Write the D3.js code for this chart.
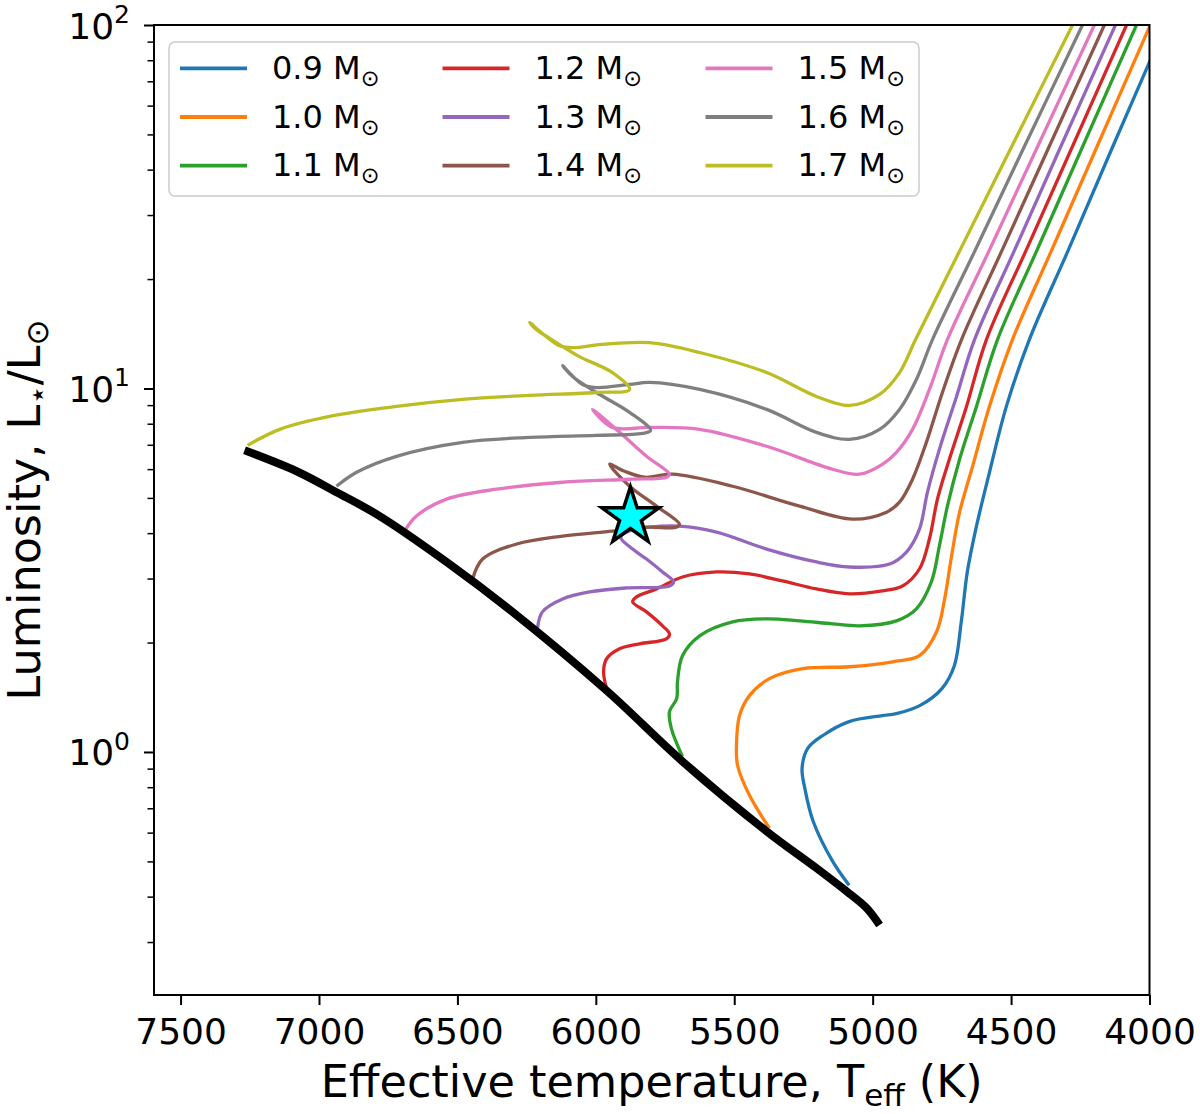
<!DOCTYPE html>
<html>
<head>
<meta charset="utf-8">
<script src="https://cdn.jsdelivr.net/npm/d3@7"></script>
<style>
  body { margin: 0; background: #fff; }
  text { font-family: "DejaVu Sans", sans-serif; fill: #000; }
</style>
</head>
<body>
<svg id="chart" width="1200" height="1114"></svg>
<script>
// stellar masses (solar units) and their colours
var masses = [0.9, 1.0, 1.1, 1.2, 1.3, 1.4, 1.5, 1.6, 1.7];
var colors = ["#1f77b4", "#ff7f0e", "#2ca02c", "#d62728", "#9467bd",
              "#8c564b", "#e377c2", "#7f7f7f", "#bcbd22"];

// evolutionary tracks, [Teff (K), L/Lsun]
var track09 = [[5085,0.430],[5145,0.501],[5215,0.645],[5245,0.794],[5255,0.901],[5235,1.022],[5180,1.110],[5085,1.212],[4965,1.259],[4915,1.275],[4830,1.341],[4750,1.494],[4705,1.727],[4680,2.28],[4658,3.13],[4625,4.18],[4578,5.88],[4517,8.93],[4434,13.63],[4293,24.06],[4138,45.3],[3942,100],[3912,113]];
var track10 = [[5373,0.617],[5445,0.760],[5488,0.918],[5492,1.042],[5481,1.259],[5445,1.429],[5373,1.591],[5253,1.695],[5084,1.716],[4928,1.771],[4831,1.840],[4769,2.141],[4740,2.637],[4715,3.46],[4686,4.57],[4639,6.11],[4578,8.93],[4495,13.63],[4353,24.06],[4195,45.3],[3997,100],[3966,113]];
var track11 = [[5687,0.972],[5727,1.160],[5734,1.291],[5708,1.402],[5705,1.561],[5687,1.840],[5625,2.087],[5506,2.28],[5383,2.324],[5264,2.295],[5145,2.252],[5048,2.224],[4914,2.295],[4842,2.476],[4788,2.936],[4759,3.687],[4730,4.746],[4686,6.385],[4625,8.925],[4549,13.63],[4406,24.06],[4247,45.3],[4047,100],[4016,113]];
var track12 = [[5961,1.494],[5972,1.663],[5961,1.805],[5914,1.922],[5842,1.984],[5745,2.048],[5734,2.114],[5759,2.223],[5817,2.429],[5867,2.588],[5853,2.671],[5781,2.809],[5687,3.030],[5564,3.128],[5445,3.089],[5326,2.955],[5203,2.809],[5084,2.722],[4965,2.774],[4892,2.862],[4831,3.187],[4795,3.853],[4766,4.961],[4723,6.385],[4661,8.925],[4589,13.63],[4445,24.06],[4284,45.3],[4083,100],[4052,113]];
var track13 = [[6211,2.182],[6193,2.429],[6120,2.637],[6023,2.756],[5889,2.827],[5734,2.862],[5719,2.936],[5759,3.128],[5817,3.395],[5867,3.616],[5910,3.90],[5870,4.08],[5806,4.155],[5698,4.181],[5564,4.026],[5383,3.616],[5203,3.332],[5084,3.228],[4939,3.289],[4878,3.549],[4831,4.104],[4802,5.185],[4759,6.80],[4697,9.508],[4632,13.63],[4487,24.06],[4326,45.3],[4123,100],[4092,113]];
var track14 = [[6445,2.992],[6409,3.395],[6286,3.733],[6120,3.926],[5940,4.053],[5817,4.155],[5709,4.155],[5698,4.235],[5781,4.746],[5878,5.383],[5950,6.187],[5896,5.92],[5824,5.70],[5723,5.81],[5506,5.383],[5264,4.746],[5073,4.371],[4950,4.569],[4903,4.867],[4856,5.627],[4806,7.109],[4748,9.75],[4679,13.63],[4532,24.06],[4368,45.3],[4163,100],[4131,113]];
var track15 = [[6691,4.053],[6648,4.457],[6539,4.961],[6359,5.283],[6120,5.522],[5878,5.627],[5745,5.70],[5734,5.81],[5817,6.508],[5914,7.574],[5998,8.596],[6012,8.76],[5940,7.816],[5806,7.816],[5625,7.72],[5383,6.934],[5145,5.996],[5048,5.81],[4965,6.187],[4914,6.674],[4856,7.72],[4795,9.94],[4730,13.63],[4578,24.06],[4410,45.3],[4199,100],[4166,113]];
var track16 = [[6937,5.383],[6864,5.883],[6720,6.508],[6481,7.109],[6239,7.337],[5998,7.43],[5831,7.524],[5802,7.67],[5878,8.596],[5998,9.75],[6084,10.79],[6120,11.56],[6048,10.26],[5998,10.06],[5878,10.26],[5806,10.39],[5625,9.94],[5383,8.76],[5203,7.574],[5084,7.245],[4975,7.72],[4903,8.76],[4842,10.59],[4784,13.63],[4629,24.06],[4458,45.3],[4242,100],[4209,113]];
var track17 = [[7258,6.975],[7142,7.72],[6962,8.38],[6720,8.925],[6481,9.33],[6239,9.57],[5998,9.75],[5878,9.94],[5940,11.06],[6059,12.24],[6142,13.37],[6214,14.52],[6239,15.18],[6131,13.12],[6070,12.96],[5987,13.2],[5806,13.37],[5625,12.56],[5383,11.06],[5203,9.508],[5084,8.98],[4975,9.63],[4903,11.06],[4845,13.63],[4684,24.06],[4504,45.3],[4278,100],[4243,113]];
var tracks = [track09, track10, track11, track12, track13, track14, track15, track16, track17];

// zero-age main sequence
var zams = [[7269,6.76],[7081,5.92],[6937,5.185],[6781,4.457],[6539,3.332],[6301,2.429],[5961,1.475],[5687,0.942],[5383,0.605],[5203,0.479],[5095,0.414],[5022,0.372],[4975,0.334]];

// the observed star
var star = [5875, 4.43];

var xTicks = [7500, 7000, 6500, 6000, 5500, 5000, 4500, 4000];
var yTicks = [1, 10, 100];
var yMinor = [0.3,0.4,0.5,0.6,0.7,0.8,0.9,2,3,4,5,6,7,8,9,20,30,40,50,60,70,80,90];

var plotL = 154, plotR = 1149.5, plotT = 25, plotB = 995;

var svg = d3.select("#chart");
svg.append("rect").attr("width", 1200).attr("height", 1114).attr("fill", "#fff");

var x = d3.scaleLinear().domain([7596, 4000]).range([plotL, plotR]);
var y = d3.scaleLog().domain([0.2145, 100]).range([plotB, plotT]);

svg.append("clipPath").attr("id", "plotclip")
   .append("rect")
   .attr("x", plotL).attr("y", plotT)
   .attr("width", plotR - plotL).attr("height", plotB - plotT);

var plot = svg.append("g").attr("clip-path", "url(#plotclip)");

var line = d3.line()
    .x(function(d) { return x(d[0]); })
    .y(function(d) { return y(d[1]); })
    .curve(d3.curveCatmullRom.alpha(0.5));

tracks.forEach(function(t, i) {
  plot.append("path")
      .attr("d", line(t))
      .attr("fill", "none")
      .attr("stroke", colors[i])
      .attr("stroke-width", 3.3)
      .attr("stroke-linejoin", "round");
});

plot.append("path")
    .attr("d", line(zams))
    .attr("fill", "none")
    .attr("stroke", "#000")
    .attr("stroke-width", 8)
    .attr("stroke-linejoin", "round");

svg.append("path")
   .attr("d", d3.symbol(d3.symbolStar, 1010)())
   .attr("transform", "translate(" + x(star[0]) + "," + y(star[1]) + ")")
   .attr("fill", "#00ffff")
   .attr("stroke", "#000")
   .attr("stroke-width", 3.5)
   .attr("stroke-linejoin", "miter");

// x axis
var xAxis = svg.append("g")
    .attr("transform", "translate(0," + plotB + ")")
    .call(d3.axisBottom(x).tickValues(xTicks).tickSize(10).tickPadding(13).tickFormat(d3.format("d")));
xAxis.select(".domain").remove();
xAxis.selectAll("line").attr("stroke", "#000").attr("stroke-width", 2);
xAxis.selectAll("text").attr("font-size", 36).attr("font-family", "DejaVu Sans").attr("fill", "#000");

// y axis, major + minor
var yAxis = svg.append("g")
    .attr("transform", "translate(" + plotL + ",0)")
    .call(d3.axisLeft(y).tickValues(yTicks).tickSize(10).tickFormat(""));
yAxis.select(".domain").remove();
yAxis.selectAll("line").attr("stroke", "#000").attr("stroke-width", 2);

var yMin = svg.append("g")
    .attr("transform", "translate(" + plotL + ",0)")
    .call(d3.axisLeft(y).tickValues(yMinor).tickSize(6.5).tickFormat(""));
yMin.select(".domain").remove();
yMin.selectAll("line").attr("stroke", "#000").attr("stroke-width", 1.5);

yTicks.forEach(function(v) {
  var t = svg.append("text")
      .attr("x", plotL - 24)
      .attr("y", y(v) + 13.5)
      .attr("text-anchor", "end")
      .attr("font-size", 36);
  t.append("tspan").text("10");
  t.append("tspan").attr("font-size", 25).attr("dy", -15.5).text(Math.round(Math.log10(v)));
});

// frame
svg.append("rect")
   .attr("x", plotL).attr("y", plotT)
   .attr("width", plotR - plotL).attr("height", plotB - plotT)
   .attr("fill", "none").attr("stroke", "#000").attr("stroke-width", 2);

// axis labels
var xl = svg.append("text")
    .attr("x", (plotL + plotR) / 2)
    .attr("y", 1097)
    .attr("text-anchor", "middle")
    .attr("font-size", 44.5);
xl.append("tspan").text("Effective temperature, T");
xl.append("tspan").attr("font-size", 31).attr("dy", 9).text("eff");
xl.append("tspan").attr("dy", -9).text(" (K)");

var yl = svg.append("text")
    .attr("transform", "translate(40," + (plotT + plotB) / 2 + ") rotate(-90)")
    .attr("text-anchor", "middle")
    .attr("font-size", 44.5);
yl.append("tspan").text("Luminosity, L");
yl.append("tspan").attr("font-size", 31).attr("dy", 8).text("\u22C6");
yl.append("tspan").attr("dy", -8).text("/L");
yl.append("tspan").attr("font-size", 31).attr("dy", 8).text("\u2299");

// legend
var legend = svg.append("g");
legend.append("rect")
    .attr("x", 169).attr("y", 42)
    .attr("width", 750).attr("height", 154)
    .attr("rx", 6)
    .attr("fill", "#fff").attr("fill-opacity", 0.8)
    .attr("stroke", "#cccccc").attr("stroke-width", 1.5);

var colX = [180, 442.5, 705.5];
masses.forEach(function(m, i) {
  var cx = colX[Math.floor(i / 3)];
  var cy = 68.3 + (i % 3) * 48.7;
  legend.append("line")
      .attr("x1", cx).attr("x2", cx + 67)
      .attr("y1", cy).attr("y2", cy)
      .attr("stroke", colors[i]).attr("stroke-width", 3.8);
  var t = legend.append("text")
      .attr("x", cx + 92).attr("y", cy + 10.5)
      .attr("font-size", 32);
  t.append("tspan").text(d3.format(".1f")(m) + " M");
  t.append("tspan").attr("font-size", 22.4).attr("dy", 7).text("\u2299");
});
</script>
</body>
</html>
